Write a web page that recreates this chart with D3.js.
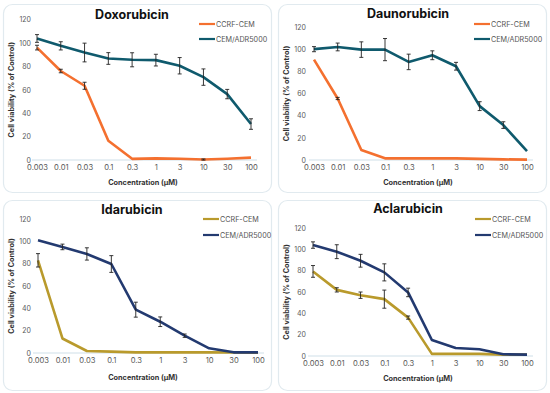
<!DOCTYPE html>
<html><head><meta charset="utf-8">
<script src="https://cdn.jsdelivr.net/npm/d3@7/dist/d3.min.js"></script>
<style>body{margin:0;background:#fff}svg{display:block}</style>
</head><body>
<svg id="c" width="550" height="393"></svg>
<script>
const concentrations = ["0.003","0.01","0.03","0.1","0.3","1","3","10","30","100"];
const yTicks = [0,20,40,60,80,100,120];
const seriesNames = ["CCRF-CEM","CEM/ADR5000"];
const drugs = ["Doxorubicin","Daunorubicin","Idarubicin","Aclarubicin"];

const doxoCCRF = [96,76,63.4,16.5,1,1.4,1.1,0.4,1.1,2];
const doxoCCRFErr = [2,1.5,3,0,0,0,0,0.5,0,0];
const doxoADR = [103.8,97.5,91.8,86.7,85.6,85.3,80.5,70.8,56.3,30.7];
const doxoADRErr = [3.3,3.5,8,5,6,5,7,7,4,4.5];

const daunoCCRF = [90.6,55.5,9,1.5,1.5,1.5,1.5,1,0.6,0.3];
const daunoCCRFErr = [0,1,0,0,0,0,0,0,0,0];
const daunoADR = [100,102,99.6,99.6,88.5,94.5,84.6,48.6,31.5,8];
const daunoADRErr = [2.3,3.5,7,10,7,4,3.5,4,3,0];

const idaCCRF = [83,13,1.8,1.2,0.6,0.6,0.6,0.6,0.4,0.3];
const idaCCRFErr = [6,0,0,0,0,0,0,0,0,0];
const idaADR = [101,95,88.7,79.7,38.8,28,15.5,4.2,0.6,0.6];
const idaADRErr = [0,2.5,5.5,7.5,6.7,4.3,1.5,0,0,0];

const aclaCCRF = [79.3,62,57,53.3,36,2,2,2,1.3,1.3];
const aclaCCRFErr = [5.5,2,3,8.5,1.5,0,0,0,0,0];
const aclaADR = [104,97.8,89.3,78.4,59.6,15,7.5,6.3,1.6,1.3];
const aclaADRErr = [3,6.5,6,8,4,0,0,0,0,0];

const panels = [
  {title:drugs[0], ox:0, oy:0, y0:160, y120:19.5, x0:37, x1:251, ty:19, tx:132, lx:199, ly:[24,39], cols:["#f4702f","#0f5a6d"], s:[[doxoCCRF,doxoCCRFErr],[doxoADR,doxoADRErr]], xt:185},
  {title:drugs[1], ox:275, oy:0, y0:160, y120:27, x0:39, x1:252, ty:18, tx:133, lx:199, ly:[24,39], cols:["#f4702f","#0f5a6d"], s:[[daunoCCRF,daunoCCRFErr],[daunoADR,daunoADRErr]], xt:185},
  {title:drugs[2], ox:0, oy:196, y0:157, y120:23, x0:38, x1:258, ty:18, tx:132, lx:203, ly:[23,39], cols:["#b99a2c","#233a70"], s:[[idaCCRF,idaCCRFErr],[idaADR,idaADRErr]], xt:184},
  {title:drugs[3], ox:275, oy:196, y0:160, y120:32, x0:38, x1:252, ty:17, tx:133, lx:200, ly:[23,39], cols:["#b99a2c","#233a70"], s:[[aclaCCRF,aclaCCRFErr],[aclaADR,aclaADRErr]], xt:185}
];

const svg = d3.select("#c");
const font = "Inter, 'Open Sans', Arial, sans-serif";

panels.forEach(p => {
  const g = svg.append("g").attr("transform",`translate(${p.ox},${p.oy})`);
  g.append("rect").attr("x",3.5).attr("y",4.5).attr("width",268).attr("height",p.oy?190:188)
    .attr("rx",9).attr("fill","#fff").attr("stroke","#e1eaef").attr("stroke-width",1.2);

  const x = d3.scalePoint().domain(concentrations).range([p.x0,p.x1]);
  const y = d3.scaleLinear().domain([0,120]).range([p.y0,p.y120]);

  // baseline
  g.append("line").attr("x1",p.x0-5).attr("x2",p.x1+6).attr("y1",p.y0).attr("y2",p.y0)
    .attr("stroke","#cfdfe8").attr("stroke-width",1);

  // y axis labels
  const ya = d3.axisLeft(y).tickValues(yTicks).tickSize(0).tickPadding(0);
  const yg = g.append("g").attr("transform",`translate(${31},0)`).call(ya);
  yg.select(".domain").remove();
  yg.selectAll("text").attr("font-family",font).attr("font-size",7).attr("fill","#595959");

  const xa = d3.axisBottom(x).tickSize(0).tickPadding(0);
  const xg = g.append("g").attr("transform",`translate(0,${p.y0+5})`).call(xa);
  xg.select(".domain").remove();
  xg.selectAll("text").attr("font-family",font).attr("font-size",7.6).attr("fill","#595959");

  // titles
  g.append("text").attr("x",p.tx).attr("y",p.ty).attr("text-anchor","middle")
    .attr("font-family",font).attr("font-weight",700).attr("font-size",12.5).attr("fill","#111").text(p.title);
  g.append("text").attr("x",143).attr("y",p.xt).attr("text-anchor","middle")
    .attr("font-family",font).attr("font-weight",700).attr("font-size",7.3).attr("fill","#333").text("Concentration (μM)");
  g.append("text").attr("transform",`translate(14,${(p.y0+p.y120)/2}) rotate(-90)`).attr("text-anchor","middle")
    .attr("font-family",font).attr("font-weight",700).attr("font-size",7.3).attr("fill","#333").text("Cell viability (% of Control)");

  const line = d3.line().x((d,i)=>x(concentrations[i])).y(d=>y(d));
  p.s.forEach(([vals,errs],k) => {
    g.append("path").datum(vals).attr("d",line).attr("fill","none")
      .attr("stroke",p.cols[k]).attr("stroke-width",2.6).attr("stroke-linejoin","round");
  });
  p.s.forEach(([vals,errs],k) => {
    const eb = g.append("g").attr("stroke","#222").attr("stroke-width",0.9);
    vals.forEach((v,i) => {
      const e = errs[i]; if(!e) return;
      const cx = x(concentrations[i]);
      eb.append("line").attr("x1",cx).attr("x2",cx).attr("y1",y(v-e)).attr("y2",y(v+e));
      eb.append("line").attr("x1",cx-2).attr("x2",cx+2).attr("y1",y(v-e)).attr("y2",y(v-e));
      eb.append("line").attr("x1",cx-2).attr("x2",cx+2).attr("y1",y(v+e)).attr("y2",y(v+e));
    });
  });

  // legend
  seriesNames.forEach((n,k) => {
    g.append("line").attr("x1",p.lx).attr("x2",p.lx+16).attr("y1",p.ly[k]).attr("y2",p.ly[k])
      .attr("stroke",p.cols[k]).attr("stroke-width",2.2);
    g.append("text").attr("x",p.lx+17).attr("y",p.ly[k]+2.5).attr("font-family",font)
      .attr("font-size",7.2).attr("fill","#555").text(n);
  });
});
</script>
</body></html>
